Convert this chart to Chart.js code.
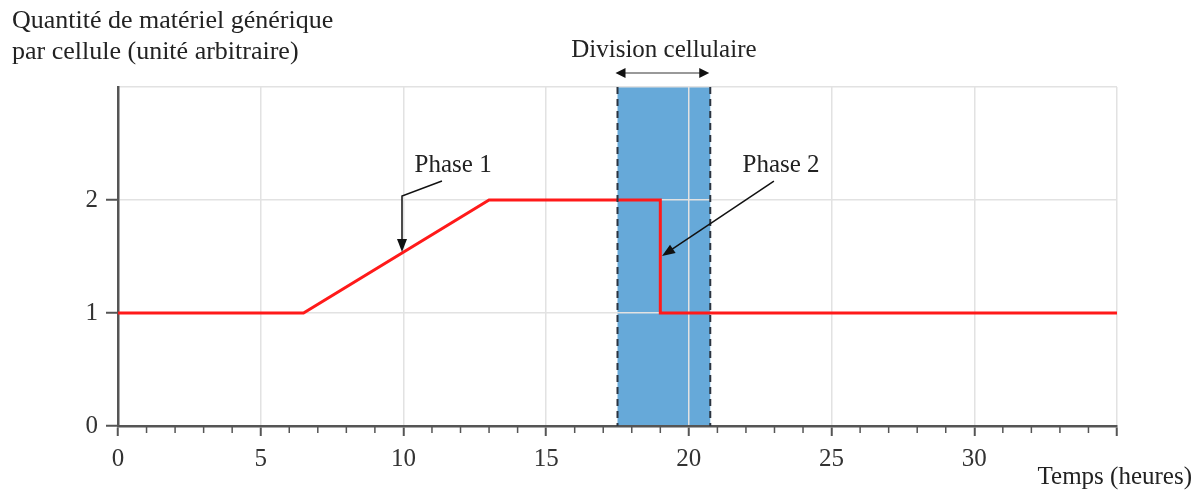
<!DOCTYPE html>
<html>
<head>
<meta charset="utf-8">
<script src="https://cdn.jsdelivr.net/npm/chart.js@4/dist/chart.umd.min.js"></script>
<style>
    html, body { margin: 0; padding: 0; background: #fff; }
</style>
</head>
<body>
<canvas id="cycleChart" width="1202" height="492"></canvas>
<script>
// Données
const timePoints = [0, 6.5, 13, 19, 19, 35];     // heures
const quantity   = [1, 1, 2, 2, 1, 1];           // unité arbitraire
const xLabelTicks = [0, 5, 10, 15, 20, 25, 30];
const yLabelTicks = [0, 1, 2];
const divisionRange = [17.5, 20.75];             // division cellulaire (heures)

// Annotations (en unités des axes)
const phase1Label = { text: 'Phase 1', x: 11.74, y: 2.248 };
const phase1Arrow = [[11.35, 2.168], [9.95, 2.035], [9.95, 1.54]];
const phase2Label = { text: 'Phase 2', x: 23.23, y: 2.248 };
const phase2Arrow = [[22.98, 2.168], [19.06, 1.504]];
const divisionLabel = { text: 'Division cellulaire', y: 3.265, arrowY: 3.124 };

const SERIF = '"Liberation Serif", "DejaVu Serif", serif';
const AXIS = '#555';
const GRID = '#e2e2e2';

function arrowHead(ctx, x0, y0, x1, y1, len, half) {
    const a = Math.atan2(y1 - y0, x1 - x0);
    ctx.beginPath();
    ctx.moveTo(x1, y1);
    ctx.lineTo(x1 - len * Math.cos(a) + half * Math.sin(a), y1 - len * Math.sin(a) - half * Math.cos(a));
    ctx.lineTo(x1 - len * Math.cos(a) - half * Math.sin(a), y1 - len * Math.sin(a) + half * Math.cos(a));
    ctx.closePath();
    ctx.fill();
}

// Bande bleue sous la grille
const bandPlugin = {
    id: 'band',
    beforeDraw(chart) {
        const { ctx, chartArea, scales: { x } } = chart;
        const x0 = x.getPixelForValue(divisionRange[0]);
        const x1 = x.getPixelForValue(divisionRange[1]);
        ctx.save();
        ctx.fillStyle = '#66a9d9';
        ctx.fillRect(x0, chartArea.top, x1 - x0, chartArea.bottom - chartArea.top);
        ctx.restore();
    }
};

// Textes, flèches, pointillés et petites graduations
const decorPlugin = {
    id: 'decor',
    afterDraw(chart) {
        const { ctx, chartArea, scales: { x, y } } = chart;
        const px = v => x.getPixelForValue(v);
        const py = v => y.getPixelForValue(v);
        ctx.save();

        // graduations secondaires (plus courtes)
        ctx.strokeStyle = AXIS;
        ctx.lineWidth = 1.5;
        for (let t = 1; t <= 35; t++) {
            if (t % 5 === 0) continue;
            ctx.beginPath();
            ctx.moveTo(px(t), chartArea.bottom);
            ctx.lineTo(px(t), chartArea.bottom + 7);
            ctx.stroke();
        }

        // bords en pointillés de la division
        ctx.strokeStyle = '#2b3440';
        ctx.lineWidth = 2;
        ctx.setLineDash([7, 5]);
        divisionRange.forEach(v => {
            ctx.beginPath();
            ctx.moveTo(px(v), chartArea.top);
            ctx.lineTo(px(v), chartArea.bottom);
            ctx.stroke();
        });
        ctx.setLineDash([]);

        ctx.fillStyle = '#222';
        ctx.textBaseline = 'alphabetic';

        // titre de l'axe y
        ctx.font = '26px ' + SERIF;
        ctx.textAlign = 'left';
        ctx.fillText('Quantité de matériel générique', 12, 28);
        ctx.fillText('par cellule (unité arbitraire)', 12, 59);

        // titre de l'axe x
        ctx.font = '25px ' + SERIF;
        ctx.textAlign = 'right';
        ctx.fillText('Temps (heures)', 1192, 484);

        // étiquettes des phases
        ctx.textAlign = 'center';
        ctx.fillText(phase1Label.text, px(phase1Label.x), py(phase1Label.y));
        ctx.fillText(phase2Label.text, px(phase2Label.x), py(phase2Label.y));
        const midDiv = (divisionRange[0] + divisionRange[1]) / 2;
        ctx.fillText(divisionLabel.text, px(midDiv), py(divisionLabel.y));

        // flèche double de la division
        const ay = py(divisionLabel.arrowY);
        const ax0 = px(divisionRange[0]) - 2, ax1 = px(divisionRange[1]) - 1;
        ctx.strokeStyle = '#999';
        ctx.lineWidth = 2;
        ctx.beginPath();
        ctx.moveTo(ax0 + 8, ay);
        ctx.lineTo(ax1 - 8, ay);
        ctx.stroke();
        ctx.fillStyle = '#111';
        arrowHead(ctx, ax1 - 10, ay, ax0, ay, 10, 5);
        arrowHead(ctx, ax0 + 10, ay, ax1, ay, 10, 5);

        // flèches des phases
        ctx.strokeStyle = '#111';
        ctx.lineWidth = 1.5;
        [phase1Arrow, phase2Arrow].forEach(pts => {
            const p = pts.map(([vx, vy]) => [px(vx), py(vy)]);
            ctx.beginPath();
            ctx.moveTo(p[0][0], p[0][1]);
            for (let i = 1; i < p.length - 1; i++) ctx.lineTo(p[i][0], p[i][1]);
            const a = p[p.length - 2], b = p[p.length - 1];
            const ang = Math.atan2(b[1] - a[1], b[0] - a[0]);
            ctx.lineTo(b[0] - 10 * Math.cos(ang), b[1] - 10 * Math.sin(ang));
            ctx.stroke();
            arrowHead(ctx, a[0], a[1], b[0], b[1], 13, 5);
        });

        ctx.restore();
    }
};

const ctx = document.getElementById('cycleChart').getContext('2d');

new Chart(ctx, {
    type: 'line',
    data: {
        datasets: [{
            data: timePoints.map((t, i) => ({ x: t, y: quantity[i] })),
            borderColor: '#ff1a1a',
            borderWidth: 3,
            pointRadius: 0,
            tension: 0,
            fill: false
        }]
    },
    options: {
        responsive: false,
        animation: false,
        events: [],
        layout: { padding: { top: 87, right: 85, left: 0, bottom: 0 } },
        plugins: { legend: { display: false }, tooltip: { enabled: false } },
        scales: {
            x: {
                type: 'linear',
                min: 0,
                max: 35,
                afterFit: s => { s.height = 66; },
                afterBuildTicks: s => { s.ticks = Array.from({ length: 36 }, (_, i) => ({ value: i })); },
                ticks: {
                    autoSkip: false,
                    maxRotation: 0,
                    padding: 8,
                    color: '#333',
                    font: { family: SERIF, size: 25 },
                    callback: v => xLabelTicks.includes(v) ? String(v) : ''
                },
                grid: {
                    color: c => (c.tick && c.tick.value % 5 === 0) ? GRID : 'rgba(0,0,0,0)',
                    lineWidth: 1.5,
                    tickLength: 10,
                    tickColor: c => (c.tick && c.tick.value % 5 === 0) ? AXIS : 'rgba(0,0,0,0)',
                    tickWidth: 2
                },
                border: { color: AXIS, width: 2.5 }
            },
            y: {
                type: 'linear',
                min: 0,
                max: 3,
                afterFit: s => { s.width = 118; },
                afterBuildTicks: s => { s.ticks = [0, 1, 2, 3].map(v => ({ value: v })); },
                ticks: {
                    padding: 8,
                    color: '#333',
                    font: { family: SERIF, size: 25 },
                    callback: v => yLabelTicks.includes(v) ? String(v) : ''
                },
                grid: {
                    color: GRID,
                    lineWidth: 1.5,
                    tickLength: 12,
                    tickColor: c => (c.tick && yLabelTicks.includes(c.tick.value)) ? AXIS : 'rgba(0,0,0,0)',
                    tickWidth: 2
                },
                border: { color: AXIS, width: 2.5 }
            }
        }
    },
    plugins: [bandPlugin, decorPlugin]
});
</script>
</body>
</html>
